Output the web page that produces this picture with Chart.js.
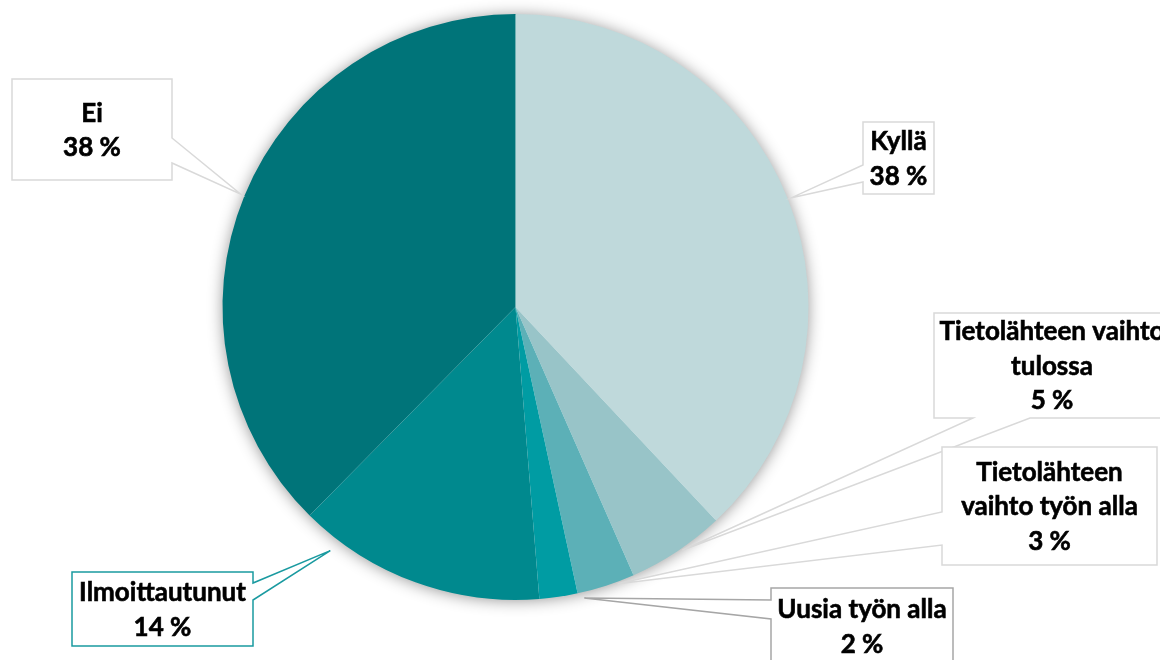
<!DOCTYPE html>
<html>
<head>
<meta charset="utf-8">
<script src="https://cdn.jsdelivr.net/npm/chart.js@4.4.1/dist/chart.umd.min.js"></script>
<style>
  html, body { margin: 0; padding: 0; background: #fff; }
  canvas { display: block; }
</style>
</head>
<body>
<canvas id="pie" width="1160" height="660"></canvas>
<script>
// Vastaukset (osuudet, %)
const categories = [
    ['Kyllä'],
    ['Tietolähteen vaihto', 'tulossa'],
    ['Tietolähteen', 'vaihto työn alla'],
    ['Uusia työn alla'],
    ['Ilmoittautunut'],
    ['Ei']
];
const shares = [38, 5.4, 3.2, 2.1, 13.7, 37.6];
const sliceColors = ['#BFD9DB', '#98C4C8', '#5CB0B7', '#009CA3', '#00898E', '#007479'];

// Selitelaatikot: laatikko, kiilan puoli ja kiilan kanta, ankkurin kohta siivussa
const calloutLayout = [
    { box: [863, 122, 71, 72],   side: 'left',   base: [43, 60], at: 0.5,   gap: 4,  stroke: '#D9D9D9' },
    { box: [934, 313, 236, 105], side: 'bottom', base: [39, 96], at: 0.45,  gap: 2,  stroke: '#D9D9D9' },
    { box: [942, 447, 215, 118], side: 'left',   base: [65, 98], at: 0.3,   gap: 2,  stroke: '#D9D9D9' },
    { box: [771, 588, 182, 76],  side: 'left',   base: [12, 31], at: -0.14, gap: 6,  stroke: '#A6A6A6' },
    { box: [72, 572, 181, 74],   side: 'right',  base: [11, 28], at: 0.85,  gap: 13, stroke: '#1A9AA0' },
    { box: [12, 79, 160, 101],   side: 'right',  base: [59, 84], at: 0.5,   gap: 4,  stroke: '#D9D9D9' }
];

const FONT = 'bold 26px Lato, "Open Sans", sans-serif';
const LINE_H = 34.5;

// pehmeä varjo piirakan alle
const pieShadow = {
    id: 'pieShadow',
    beforeDatasetsDraw(chart) {
        const arc = chart.getDatasetMeta(0).data[0];
        if (!arc) return;
        const ctx = chart.ctx;
        ctx.save();
        ctx.shadowColor = 'rgba(0,0,0,0.45)';
        ctx.shadowBlur = 16;
        ctx.shadowOffsetY = 1;
        ctx.fillStyle = '#fff';
        ctx.beginPath();
        ctx.arc(arc.x, arc.y, arc.outerRadius - 1, 0, Math.PI * 2);
        ctx.fill();
        ctx.restore();
    }
};

function calloutPath(ctx, L, ax, ay) {
    const [x, y, w, h] = L.box;
    const [b1, b2] = L.base;
    ctx.beginPath();
    ctx.moveTo(x, y);
    if (L.side === 'top') { ctx.lineTo(x + b1, y); ctx.lineTo(ax, ay); ctx.lineTo(x + b2, y); }
    ctx.lineTo(x + w, y);
    if (L.side === 'right') { ctx.lineTo(x + w, y + b1); ctx.lineTo(ax, ay); ctx.lineTo(x + w, y + b2); }
    ctx.lineTo(x + w, y + h);
    if (L.side === 'bottom') { ctx.lineTo(x + b2, y + h); ctx.lineTo(ax, ay); ctx.lineTo(x + b1, y + h); }
    ctx.lineTo(x, y + h);
    if (L.side === 'left') { ctx.lineTo(x, y + b2); ctx.lineTo(ax, ay); ctx.lineTo(x, y + b1); }
    ctx.closePath();
}

const callouts = {
    id: 'callouts',
    afterDatasetsDraw(chart) {
        const ctx = chart.ctx;
        const meta = chart.getDatasetMeta(0);
        meta.data.forEach((arc, i) => {
            const L = calloutLayout[i];
            const a = arc.startAngle + (arc.endAngle - arc.startAngle) * L.at;
            const r = arc.outerRadius + L.gap;
            const ax = arc.x + Math.cos(a) * r;
            const ay = arc.y + Math.sin(a) * r;

            ctx.save();
            calloutPath(ctx, L, ax, ay);
            ctx.fillStyle = '#fff';
            ctx.fill();
            ctx.lineWidth = 1.5;
            ctx.strokeStyle = L.stroke;
            ctx.lineJoin = 'miter';
            ctx.stroke();

            const lines = categories[i].concat([Math.round(shares[i]) + ' %']);
            const [x, y, w, h] = L.box;
            const cx = x + w / 2;
            const cy = y + h / 2;
            ctx.font = FONT;
            ctx.fillStyle = '#000';
            ctx.strokeStyle = '#000';
            ctx.lineWidth = 0.6;
            ctx.textAlign = 'center';
            ctx.textBaseline = 'middle';
            lines.forEach((t, k) => {
                const ty = cy + 1 + (k - (lines.length - 1) / 2) * LINE_H;
                ctx.fillText(t, cx, ty);
                ctx.strokeText(t, cx, ty);
            });
            ctx.restore();
        });
    }
};

new Chart(document.getElementById('pie'), {
    type: 'pie',
    data: {
        labels: categories.map(c => c.join(' ')),
        datasets: [{
            data: shares,
            backgroundColor: sliceColors,
            borderWidth: 0
        }]
    },
    options: {
        responsive: false,
        animation: false,
        layout: { padding: { left: 0, right: 129, top: 14, bottom: 60 } },
        plugins: {
            legend: { display: false },
            tooltip: { enabled: false }
        }
    },
    plugins: [pieShadow, callouts]
});
</script>
</body>
</html>
